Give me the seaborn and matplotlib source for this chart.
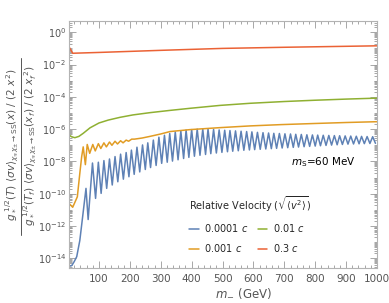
import numpy as np
import pandas as pd
import matplotlib
matplotlib.use("Agg")
import matplotlib.pyplot as plt
import matplotlib.ticker as mticker
from matplotlib.lines import Line2D
import seaborn as sns

# values: m (GeV) and log10 of the ratio
red_m = [3, 15, 100, 300, 500, 700, 1000]
red_log = [-0.9, -1.3, -1.25, -1.12, -1.0, -0.93, -0.84]

green_m = [3, 12, 22, 35, 49, 71, 100, 130, 168, 210, 265, 330, 395, 492, 589, 700, 800, 900, 1000]
green_log = [-6.36, -6.48, -6.53, -6.45, -6.26, -5.92, -5.62, -5.44, -5.27, -5.12, -4.98, -4.84,
             -4.71, -4.53, -4.4, -4.29, -4.21, -4.14, -4.08]

orange_m = [3, 15, 30, 38, 44, 49, 56, 62, 70, 80, 88, 98, 106, 116, 124, 134, 142, 152, 160,
            170, 178, 188, 196, 206, 215, 240, 265, 300, 330, 395, 490, 590, 690, 800, 900, 1000]
orange_log = [-10.6, -10.84, -10.19, -8.74, -7.71, -7.1, -8.2, -6.95, -7.5, -6.95, -7.35, -6.9,
              -7.2, -6.85, -7.1, -6.8, -7.0, -6.75, -6.92, -6.72, -6.85, -6.68, -6.75, -6.62,
              -6.62, -6.55, -6.45, -6.3, -6.15, -6.03, -5.91, -5.8, -5.72, -5.65, -5.59, -5.54]

blue_rise_m = [3, 12, 20, 28, 38, 47]
blue_rise_log = [-14.5, -14.45, -14.2, -13.9, -12.9, -11.45]

blue_peak_m = [58, 79, 98, 116, 134, 152, 170, 188, 205, 223, 241, 258, 276, 294, 312, 329, 347,
               365, 382, 400, 418, 436, 453, 471, 489, 507, 524, 542, 560, 578, 595, 613, 631,
               649, 666, 684, 702, 720, 737, 755, 773, 791, 808, 826, 844, 862, 879, 897, 915,
               933, 950, 968, 986]
blue_peak_log = [-9.67, -8.1, -8.05, -7.95, -7.85, -7.7, -7.55, -7.45, -7.3, -7.12, -6.98, -6.85,
                 -6.68, -6.5, -6.38, -6.27, -6.18, -6.12, -6.06, -6.03, -6.0, -6.0, -6.0, -6.02,
                 -6.05, -6.07, -6.09, -6.11, -6.13, -6.15, -6.17, -6.2, -6.22, -6.24, -6.26,
                 -6.27, -6.29, -6.3, -6.32, -6.33, -6.35, -6.36, -6.37, -6.38, -6.39, -6.4,
                 -6.41, -6.42, -6.43, -6.44, -6.45, -6.46, -6.47]

blue_trough_m = [65, 89, 107, 125, 143, 161, 179, 197, 214, 232, 250, 267, 285, 303, 321, 338,
                 356, 374, 391, 409, 427, 445, 462, 480, 498, 516, 533, 551, 569, 587, 604, 622,
                 640, 658, 675, 693, 711, 729, 746, 764, 782, 800, 817, 835, 853, 871, 888, 906,
                 924, 942, 959, 977, 995]
blue_trough_log = [-11.6, -10.29, -9.98, -9.67, -9.46, -9.26, -9.1, -8.95, -8.8, -8.65, -8.5,
                   -8.38, -8.25, -8.12, -8.05, -7.98, -7.9, -7.82, -7.75, -7.68, -7.62, -7.57,
                   -7.52, -7.48, -7.44, -7.4, -7.37, -7.34, -7.31, -7.29, -7.27, -7.25, -7.23,
                   -7.21, -7.19, -7.17, -7.15, -7.13, -7.11, -7.09, -7.07, -7.05, -7.03, -7.01,
                   -6.99, -6.97, -6.95, -6.93, -6.92, -6.91, -6.9, -6.89, -6.88]

labels = ["0.0001 $c$", "0.001 $c$", "0.01 $c$", "0.3 $c$"]
colors = ["#5E81B5", "#E19C24", "#8FB032", "#EB6235"]

# blue: rise, then alternate peak / trough
blue_m = list(blue_rise_m)
blue_log = list(blue_rise_log)
for pm, pl, tm, tl in zip(blue_peak_m, blue_peak_log, blue_trough_m, blue_trough_log):
    blue_m += [pm, tm]
    blue_log += [pl, tl]

curves = [(blue_m, blue_log), (orange_m, orange_log), (green_m, green_log), (red_m, red_log)]

sns.set_theme(style="ticks")
plt.rcParams['font.family'] = ['DejaVu Sans']
plt.rcParams['mathtext.fontset'] = 'dejavusans'

fig = plt.figure(figsize=(3.89, 3.03), dpi=100)
ax = fig.add_axes([69 / 389, 1 - 268 / 303, 308 / 389, 247.3 / 303])

for (m, lg), lab, col in zip(curves, labels, colors):
    df = pd.DataFrame({"m": m, "val": 10.0 ** np.array(lg)})
    sns.lineplot(data=df, x="m", y="val", color=col, label=lab, linewidth=1.1,
                 sort=False, estimator=None, ax=ax)

ax.set_yscale("log")
ax.set_xlim(3, 1000)
ax.set_ylim(2.5e-15, 5.2)

gray = "#999999"
tcol = "#555555"
for s in ax.spines.values():
    s.set_color("#b3b3b3")
    s.set_linewidth(0.8)

ax.xaxis.set_major_locator(mticker.MultipleLocator(100))
ax.xaxis.set_minor_locator(mticker.MultipleLocator(20))
ax.yaxis.set_major_locator(mticker.FixedLocator([10.0 ** e for e in range(-14, 1, 2)]))
minor_y = []
for e in range(-16, 2):
    for k in range(1, 10):
        if k == 1 and e % 2 == 0:
            continue
        minor_y.append(k * 10.0 ** e)
ax.yaxis.set_minor_locator(mticker.FixedLocator(minor_y))
ax.yaxis.set_major_formatter(mticker.LogFormatterMathtext())
ax.yaxis.set_minor_formatter(mticker.NullFormatter())

ax.tick_params(which="both", direction="in", top=True, right=True, colors=gray,
               labelcolor=tcol, labelsize=7, width=0.6)
ax.tick_params(which="major", length=5)
ax.tick_params(which="minor", length=2.5)
ax.tick_params(axis="x", pad=4, labelsize=7.5)
ax.tick_params(axis="y", pad=2)

ax.set_xlabel("$m_{-}$ (GeV)", fontsize=8.5, color=tcol, va="center")
ax.xaxis.set_label_coords(174 / 308, -25 / 247.3)
ax.set_ylabel("")

# y label drawn as a stacked fraction
num = r"$g_*^{\ 1/2}(T)\ \langle\sigma v\rangle_{\chi_{\mp}\chi_{\pm}\to \mathrm{SS}}(x)\ /\ (2\ x^2)$"
den = r"$g_*^{\ 1/2}(T_f)\ \langle\sigma v\rangle_{\chi_{\mp}\chi_{\pm}\to \mathrm{SS}}(x_f)\ /\ (2\ x_f^{\ 2})$"
fig.text(12 / 389, 1 - 145 / 303, num, rotation=90, ha="center", va="center",
         fontsize=7.6, color=tcol)
fig.text(30 / 389, 1 - 145 / 303, den, rotation=90, ha="center", va="center",
         fontsize=7.6, color=tcol)
fig.add_artist(Line2D([20.7 / 389, 20.7 / 389], [1 - 58 / 303, 1 - 235 / 303],
                      transform=fig.transFigure, color=tcol, linewidth=0.7))

ax.text(825, 10 ** -8.04, "$m_{\\mathrm{S}}$=60 MeV", fontsize=7.5, color="black",
        ha="center", va="center")

leg = ax.legend(ncol=2, loc="upper left", bbox_to_anchor=(115 / 308, (268 - 190) / 247.3),
                frameon=False, fontsize=7, title=r"Relative Velocity ($\sqrt{\langle v^2\rangle}$)",
                title_fontsize=7, handlelength=1.0, handletextpad=0.6, columnspacing=0.9,
                labelspacing=0.8, borderpad=0, alignment="left")

fig.savefig("out.png", dpi=100)
